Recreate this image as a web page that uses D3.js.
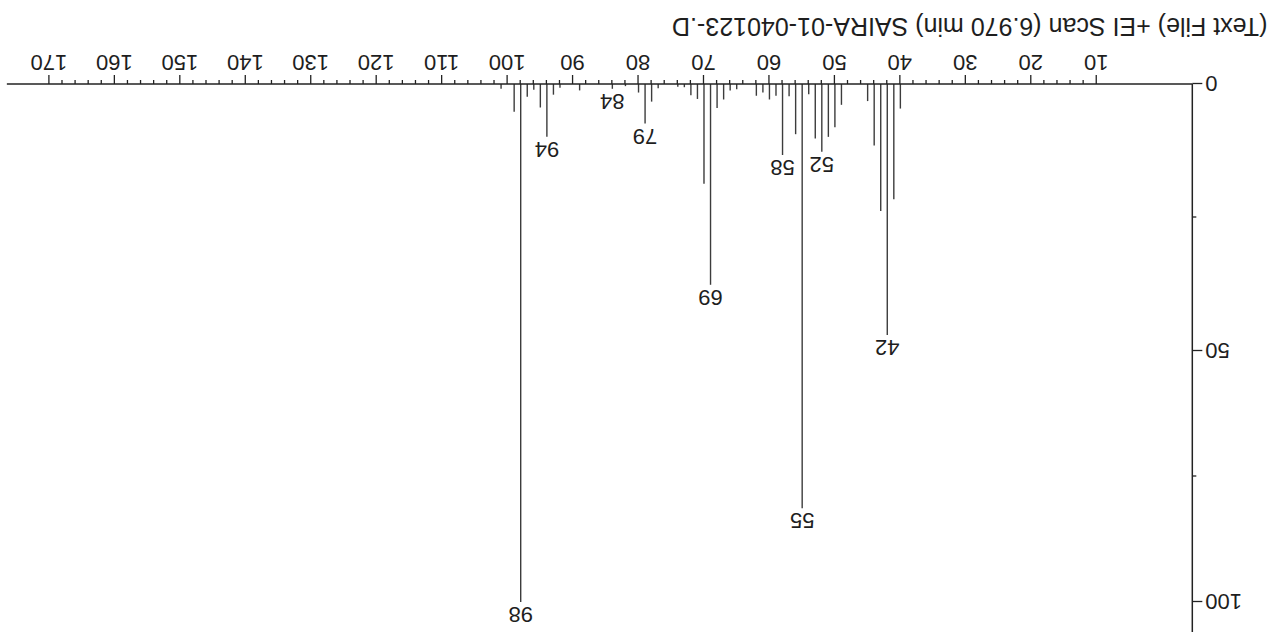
<!DOCTYPE html>
<html>
<head>
<meta charset="utf-8">
<script src="https://cdn.jsdelivr.net/npm/d3@7"></script>
<style>
body { margin: 0; background: #fff; }
svg { display: block; }
text { font-family: "Liberation Sans", Arial, sans-serif; fill: #1e1e1e; }
</style>
</head>
<body>
<div id="chart"></div>
<script>
// spectrum values
let mzValues = [40, 41, 42, 43, 44, 45, 49, 50, 51, 52, 53, 54, 55, 56, 57, 58, 59, 60, 61, 62,
                65, 66, 67, 68, 69, 70, 71, 72, 73, 74, 77, 78, 79, 80, 82, 84, 89, 92, 93, 94,
                95, 96, 97, 98, 99, 101];
let abundances = [4.6, 21.6, 47.0, 23.8, 11.5, 3.2, 3.9, 8.1, 9.9, 12.7, 10.2, 1.9, 81.3, 9.4, 2.3, 13.3, 2.2, 2.9, 1.6, 2.2,
                  1.0, 1.2, 2.9, 4.5, 37.6, 18.7, 2.8, 2.1, 0.6, 0.5, 0.8, 3.3, 7.4, 1.6, 0.4, 0.9, 1.2, 0.7, 2.0, 9.9,
                  4.4, 1.1, 2.4, 100, 5.2, 0.9];
let labelledMz = [42, 52, 55, 58, 69, 79, 84, 94, 98];

let xTicks = [10, 20, 30, 40, 50, 60, 70, 80, 90, 100, 110, 120, 130, 140, 150, 160, 170];
let xMinorTicks = d3.range(12, 170, 2).filter(v => v % 10 != 0);
let xLine = [-4.6, 176.5];
let yTicks = [0, 50, 100];
let yMinorTicks = [25, 75];
let yLine = [0, 106];

let title = "(Text File) +EI Scan (6.970 min) SAIRA-01-040123-.D";

let width = 1273, height = 642;

let x = d3.scaleLinear().domain([0, 170]).range([110.8, 1223.6]);
// the printed axis is a little stretched in its lower half, so keep the 50 mark where the paper has it
let y = d3.scaleLinear().domain([0, 50, 100]).range([558, 291, 40]);

let svg = d3.select("#chart")
    .append("svg")
    .attr("width", width)
    .attr("height", height);

svg.append("rect")
    .attr("width", width)
    .attr("height", height)
    .attr("fill", "#fff");

// the page was scanned upside down: draw it the normal way and turn the whole thing round
let g = svg.append("g")
    .attr("transform", "rotate(180," + width / 2 + "," + height / 2 + ")");

let peaks = mzValues.map((m, i) => ({mz: m, ab: abundances[i]}));

g.selectAll(".peak")
    .data(peaks)
    .join("line")
    .attr("class", "peak")
    .attr("x1", d => x(d.mz))
    .attr("x2", d => x(d.mz))
    .attr("y1", y(0))
    .attr("y2", d => y(d.ab))
    .attr("stroke", "#3c3c3c")
    .attr("stroke-width", 1.4);

g.selectAll(".plabel")
    .data(peaks.filter(d => labelledMz.includes(d.mz)))
    .join("text")
    .attr("class", "plabel")
    .attr("x", d => x(d.mz))
    .attr("y", d => y(d.ab) - 5)
    .attr("text-anchor", "middle")
    .attr("font-size", 22)
    .text(d => d.mz);

// x axis
let xAxisG = g.append("g")
    .attr("transform", "translate(0," + y(0) + ")")
    .style("color", "#222");

xAxisG.append("g")
    .call(d3.axisBottom(x).tickValues(xMinorTicks).tickSize(4).tickFormat(""))
    .call(a => a.select(".domain").remove());

xAxisG.append("g")
    .call(d3.axisBottom(x).tickValues(xTicks).tickSize(9).tickPadding(4))
    .call(a => a.select(".domain").remove())
    .attr("font-size", 22)
    .attr("font-family", null);

xAxisG.selectAll("line").attr("stroke-width", 1.3);

xAxisG.append("line")
    .attr("x1", x(xLine[0]))
    .attr("x2", x(xLine[1]))
    .attr("stroke", "#222")
    .attr("stroke-width", 1.5);

// y axis
let yAxisG = g.append("g")
    .attr("transform", "translate(" + x(xLine[0]) + ",0)")
    .style("color", "#222");

yAxisG.append("g")
    .call(d3.axisLeft(y).tickValues(yMinorTicks).tickSize(4).tickFormat(""))
    .call(a => a.select(".domain").remove());

yAxisG.append("g")
    .call(d3.axisLeft(y).tickValues(yTicks).tickSize(10).tickPadding(3))
    .call(a => a.select(".domain").remove())
    .attr("font-size", 22)
    .attr("font-family", null);

yAxisG.selectAll("line").attr("stroke-width", 1.3);

yAxisG.append("line")
    .attr("y1", y(yLine[0]))
    .attr("y2", y(yLine[1]))
    .attr("stroke", "#222")
    .attr("stroke-width", 1.5);

// title under the axis
g.append("text")
    .attr("x", 601)
    .attr("y", 624)
    .attr("text-anchor", "end")
    .attr("font-size", 25)
    .text(title);
</script>
</body>
</html>
